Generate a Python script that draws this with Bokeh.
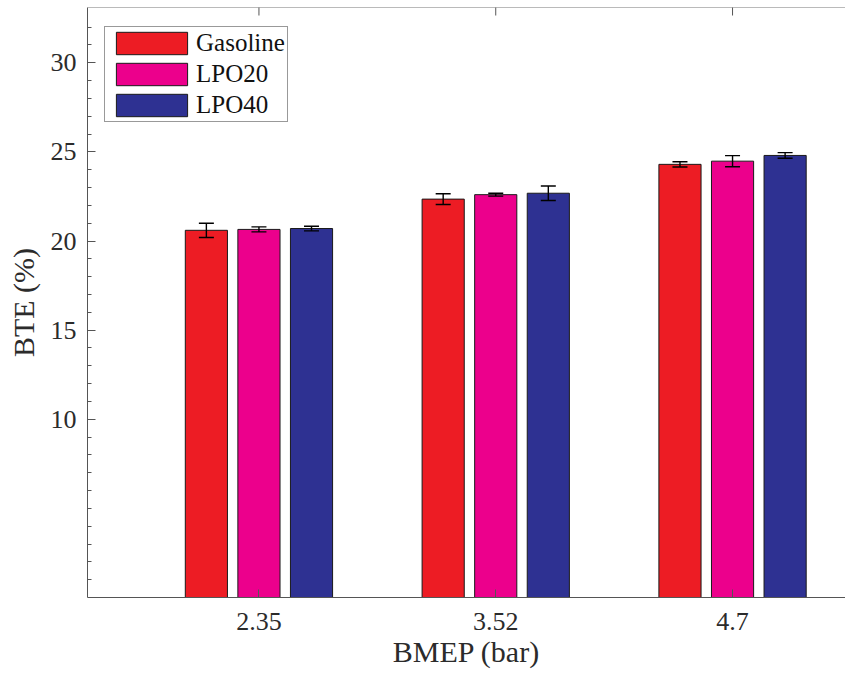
import math
from bokeh.plotting import figure
from bokeh.models import (Range1d, FixedTicker, Whisker, TeeHead, Span,
                          ColumnDataSource, Legend, LegendItem)
from bokeh.embed import file_html
from bokeh.resources import INLINE

# ---- data ----
bmep = ["2.35", "3.52", "4.7"]
fuels = ["Gasoline", "LPO20", "LPO40"]
gasoline = [20.60, 22.35, 24.30]
lpo20 = [20.65, 22.60, 24.48]
lpo40 = [20.70, 22.68, 24.80]
gasoline_err = [0.40, 0.30, 0.15]
lpo20_err = [0.14, 0.08, 0.31]
lpo40_err = [0.13, 0.41, 0.16]
y_major = [10, 15, 20, 25, 30]

# ---- styles ----
colors = ["#ED1C24", "#EC008C", "#2E3192"]
offsets = [-0.222, 0.0, 0.222]
bar_w = 0.178
FONT = "Liberation Serif"
TXT = "#2b2b2b"
AXC = "#555555"

xs = list(range(1, len(bmep) + 1))
y_rng = Range1d(0, 33.1)

p = figure(width=845, height=679, output_backend="svg", toolbar_location=None,
           x_range=Range1d(0.276, 3.477), y_range=y_rng,
           min_border_left=87, min_border_top=7, min_border_bottom=82,
           min_border_right=0)
p.outline_line_color = None
p.background_fill_color = "white"
p.xgrid.grid_line_color = None
p.ygrid.grid_line_color = None

series = [gasoline, lpo20, lpo40]
errs = [gasoline_err, lpo20_err, lpo40_err]
items = []
for name, vals, err, col, off in zip(fuels, series, errs, colors, offsets):
    src = ColumnDataSource(dict(
        x=[x + off for x in xs], top=vals,
        upper=[v + e for v, e in zip(vals, err)],
        lower=[v - e for v, e in zip(vals, err)]))
    r = p.vbar(x="x", top="top", bottom=0, width=bar_w, source=src,
               fill_color=col, line_color="#1a1a1a", line_width=1)
    w = Whisker(source=src, base="x", upper="upper", lower="lower",
                line_color="black", line_width=1.4, level="overlay",
                upper_head=TeeHead(size=15, line_color="black", line_width=1.4),
                lower_head=TeeHead(size=15, line_color="black", line_width=1.4))
    p.add_layout(w)
    items.append(LegendItem(label=name, renderers=[r]))

# x axis
xa = p.xaxis[0]
xa.ticker = FixedTicker(ticks=xs)
xa.major_label_overrides = {x: lab for x, lab in zip(xs, bmep)}
xa.axis_label = "BMEP (bar)"
xa.minor_tick_line_color = None
xa.major_tick_in = 8
xa.major_tick_out = 0
xa.major_label_standoff = 15
xa.axis_label_standoff = 2

# y axis
ya = p.yaxis[0]
ya.ticker = FixedTicker(ticks=y_major, minor_ticks=list(range(1, 33)))
ya.axis_label = "BTE (%)"
ya.major_tick_in = 8
ya.major_tick_out = 0
ya.minor_tick_in = 4
ya.minor_tick_out = 0
ya.major_label_standoff = 11
ya.axis_label_standoff = 8

for ax in (xa, ya):
    ax.axis_line_color = AXC
    ax.major_tick_line_color = AXC
    ax.minor_tick_line_color = AXC if ax is ya else None
    ax.major_label_text_font = FONT
    ax.major_label_text_font_size = "26px"
    ax.major_label_text_color = TXT
    ax.axis_label_text_font = FONT
    ax.axis_label_text_font_size = "30px"
    ax.axis_label_text_font_style = "normal"
    ax.axis_label_text_color = TXT

# top border line and mirrored (inward) ticks
p.add_layout(Span(location=y_rng.end, dimension="width",
                  line_color="#777777", line_width=1))
p.scatter(x=xs, y=[y_rng.end] * len(xs), marker="dash", size=16,
          angle=math.pi / 2, line_color=AXC, line_width=1)

legend = Legend(items=items, location=(17, 475),
                label_text_font=FONT, label_text_font_size="25px",
                label_text_color="#111111",
                glyph_width=89, glyph_height=28, label_height=28,
                label_standoff=0, spacing=3, padding=2, margin=0,
                border_line_color="#333333", border_line_width=1,
                background_fill_alpha=1.0)
p.add_layout(legend)

open("out.html", "w").write(file_html(p, INLINE))
